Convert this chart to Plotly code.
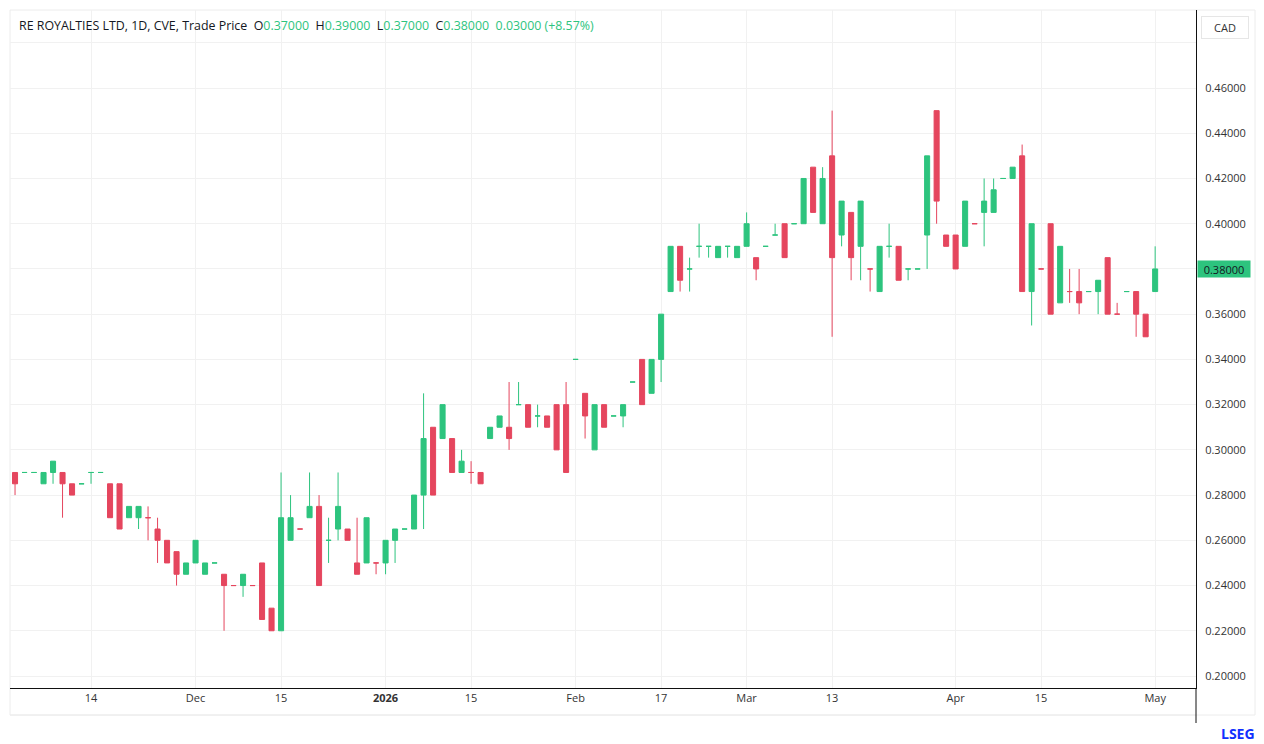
import plotly.graph_objects as go

# ---------------- data ----------------
dates = [
    "2025-11-04", "2025-11-05", "2025-11-06", "2025-11-07", "2025-11-10", "2025-11-11",
    "2025-11-12", "2025-11-13", "2025-11-14", "2025-11-17", "2025-11-18", "2025-11-19",
    "2025-11-20", "2025-11-21", "2025-11-24", "2025-11-25", "2025-11-26", "2025-11-27",
    "2025-11-28", "2025-12-01", "2025-12-02", "2025-12-03", "2025-12-04", "2025-12-08",
    "2025-12-09", "2025-12-10", "2025-12-11", "2025-12-12", "2025-12-15", "2025-12-16",
    "2025-12-17", "2025-12-18", "2025-12-19", "2025-12-22", "2025-12-23", "2025-12-24",
    "2025-12-29", "2025-12-30", "2025-12-31", "2026-01-02", "2026-01-05", "2026-01-06",
    "2026-01-07", "2026-01-08", "2026-01-09", "2026-01-12", "2026-01-13", "2026-01-14",
    "2026-01-15", "2026-01-16", "2026-01-19", "2026-01-20", "2026-01-21", "2026-01-22",
    "2026-01-26", "2026-01-27", "2026-01-28", "2026-01-29", "2026-01-30", "2026-02-02",
    "2026-02-03", "2026-02-04", "2026-02-05", "2026-02-06", "2026-02-10", "2026-02-11",
    "2026-02-12", "2026-02-13", "2026-02-17", "2026-02-18", "2026-02-19", "2026-02-20",
    "2026-02-23", "2026-02-24", "2026-02-25", "2026-02-26", "2026-02-27", "2026-03-02",
    "2026-03-03", "2026-03-04", "2026-03-05", "2026-03-06", "2026-03-09", "2026-03-10",
    "2026-03-11", "2026-03-12", "2026-03-13", "2026-03-16", "2026-03-17", "2026-03-18",
    "2026-03-19", "2026-03-20", "2026-03-23", "2026-03-24", "2026-03-25", "2026-03-26",
    "2026-03-27", "2026-03-30", "2026-03-31", "2026-04-01", "2026-04-02", "2026-04-06",
    "2026-04-07", "2026-04-08", "2026-04-09", "2026-04-10", "2026-04-13", "2026-04-14",
    "2026-04-15", "2026-04-16", "2026-04-17", "2026-04-20", "2026-04-21", "2026-04-22",
    "2026-04-23", "2026-04-24", "2026-04-27", "2026-04-28", "2026-04-29", "2026-04-30",
    "2026-05-01",
]

open_ = [
    0.29, 0.29, 0.29, 0.285, 0.29, 0.29, 0.285, 0.285, 0.29, 0.29,
    0.285, 0.285, 0.27, 0.27, 0.27, 0.265, 0.26, 0.255, 0.245, 0.25,
    0.245, 0.25, 0.245, 0.24, 0.24, 0.24, 0.25, 0.23, 0.22, 0.26,
    0.265, 0.27, 0.275, 0.26, 0.265, 0.265, 0.25, 0.25, 0.25, 0.25,
    0.26, 0.265, 0.265, 0.28, 0.31, 0.305, 0.305, 0.29, 0.29, 0.29,
    0.305, 0.31, 0.31, 0.32, 0.32, 0.315, 0.315, 0.32, 0.32, 0.34,
    0.325, 0.30, 0.32, 0.315, 0.315, 0.33, 0.34, 0.325, 0.34, 0.37,
    0.39, 0.38, 0.39, 0.39, 0.385, 0.39, 0.385, 0.39, 0.385, 0.39,
    0.395, 0.40, 0.40, 0.40, 0.425, 0.40, 0.43, 0.395, 0.405, 0.39,
    0.38, 0.37, 0.39, 0.39, 0.38, 0.38, 0.395, 0.45, 0.395, 0.395,
    0.39, 0.40, 0.405, 0.405, 0.42, 0.42, 0.43, 0.37, 0.38, 0.40,
    0.365, 0.37, 0.37, 0.37, 0.37, 0.385, 0.36, 0.37, 0.37, 0.36,
    0.37,
]
high = [
    0.29, 0.29, 0.29, 0.29, 0.295, 0.29, 0.285, 0.285, 0.29, 0.29,
    0.285, 0.285, 0.275, 0.275, 0.275, 0.27, 0.26, 0.255, 0.25, 0.26,
    0.25, 0.25, 0.245, 0.24, 0.245, 0.24, 0.25, 0.23, 0.29, 0.28,
    0.265, 0.29, 0.28, 0.27, 0.29, 0.265, 0.27, 0.27, 0.25, 0.26,
    0.265, 0.265, 0.28, 0.325, 0.31, 0.32, 0.305, 0.30, 0.295, 0.29,
    0.31, 0.315, 0.33, 0.33, 0.32, 0.32, 0.315, 0.32, 0.33, 0.34,
    0.325, 0.32, 0.32, 0.315, 0.32, 0.33, 0.34, 0.34, 0.36, 0.39,
    0.39, 0.385, 0.40, 0.39, 0.39, 0.39, 0.39, 0.405, 0.385, 0.39,
    0.40, 0.40, 0.40, 0.42, 0.425, 0.425, 0.45, 0.41, 0.405, 0.41,
    0.38, 0.39, 0.40, 0.39, 0.38, 0.38, 0.43, 0.45, 0.395, 0.395,
    0.41, 0.40, 0.42, 0.42, 0.42, 0.425, 0.435, 0.40, 0.38, 0.40,
    0.39, 0.38, 0.38, 0.37, 0.375, 0.385, 0.365, 0.37, 0.37, 0.36,
    0.39,
]
low = [
    0.28, 0.29, 0.29, 0.285, 0.285, 0.27, 0.28, 0.285, 0.285, 0.29,
    0.27, 0.265, 0.27, 0.265, 0.26, 0.25, 0.25, 0.24, 0.245, 0.25,
    0.245, 0.25, 0.22, 0.24, 0.235, 0.24, 0.225, 0.22, 0.22, 0.26,
    0.265, 0.27, 0.24, 0.25, 0.26, 0.26, 0.245, 0.25, 0.245, 0.245,
    0.25, 0.265, 0.265, 0.265, 0.28, 0.305, 0.29, 0.29, 0.285, 0.285,
    0.305, 0.31, 0.30, 0.32, 0.31, 0.31, 0.31, 0.30, 0.29, 0.34,
    0.305, 0.30, 0.31, 0.315, 0.31, 0.33, 0.32, 0.325, 0.33, 0.37,
    0.37, 0.37, 0.385, 0.385, 0.385, 0.385, 0.385, 0.39, 0.375, 0.39,
    0.395, 0.385, 0.40, 0.40, 0.405, 0.40, 0.35, 0.39, 0.375, 0.375,
    0.37, 0.37, 0.385, 0.375, 0.375, 0.38, 0.38, 0.40, 0.39, 0.38,
    0.39, 0.40, 0.39, 0.405, 0.42, 0.42, 0.37, 0.355, 0.38, 0.36,
    0.365, 0.365, 0.36, 0.37, 0.36, 0.36, 0.36, 0.37, 0.35, 0.35,
    0.37,
]
close = [
    0.285, 0.29, 0.29, 0.29, 0.295, 0.285, 0.28, 0.285, 0.29, 0.29,
    0.27, 0.265, 0.275, 0.275, 0.27, 0.26, 0.25, 0.245, 0.25, 0.26,
    0.25, 0.25, 0.24, 0.24, 0.245, 0.24, 0.225, 0.22, 0.27, 0.27,
    0.265, 0.275, 0.24, 0.26, 0.275, 0.26, 0.245, 0.27, 0.25, 0.26,
    0.265, 0.265, 0.28, 0.305, 0.28, 0.32, 0.29, 0.295, 0.29, 0.285,
    0.31, 0.315, 0.305, 0.32, 0.31, 0.315, 0.31, 0.30, 0.29, 0.34,
    0.315, 0.32, 0.31, 0.315, 0.32, 0.33, 0.32, 0.34, 0.36, 0.39,
    0.375, 0.38, 0.39, 0.39, 0.39, 0.39, 0.39, 0.40, 0.38, 0.39,
    0.395, 0.385, 0.40, 0.42, 0.405, 0.42, 0.385, 0.41, 0.385, 0.41,
    0.38, 0.39, 0.39, 0.375, 0.38, 0.38, 0.43, 0.41, 0.39, 0.38,
    0.41, 0.40, 0.41, 0.415, 0.42, 0.425, 0.37, 0.40, 0.38, 0.36,
    0.39, 0.37, 0.365, 0.37, 0.375, 0.36, 0.36, 0.37, 0.36, 0.35,
    0.38,
]

x_tick_dates = ["2025-11-14", "2025-12-01", "2025-12-15", "2026-01-02", "2026-01-15",
                "2026-02-02", "2026-02-17", "2026-03-02", "2026-03-13", "2026-04-01",
                "2026-04-15", "2026-05-01"]
x_tick_labels = ["14", "Dec", "15", "<b>2026</b>", "15", "Feb", "17", "Mar", "13",
                 "Apr", "15", "May"]
y_tick_values = [0.20, 0.22, 0.24, 0.26, 0.28, 0.30, 0.32, 0.34, 0.36, 0.38, 0.40,
                 0.42, 0.44, 0.46, 0.48]
y_tick_labels = [f"{v:.5f}" if v < 0.47 else "" for v in y_tick_values]

title_text = "RE ROYALTIES LTD, 1D, CVE, Trade Price"
currency = "CAD"

# ---------------- style ----------------
UP = "#2dc47e"
DOWN = "#e5465e"
FONT = "Open Sans"
TXT = "#131722"

fig = go.Figure(go.Candlestick(
    x=dates, open=open_, high=high, low=low, close=close,
    increasing=dict(line=dict(color=UP, width=1), fillcolor=UP),
    decreasing=dict(line=dict(color=DOWN, width=1), fillcolor=DOWN),
    whiskerwidth=0, hoverinfo="skip",
))

n = len(dates)
fig.update_layout(
    width=1264, height=744,
    margin=dict(l=10, r=68, t=10, b=56),
    paper_bgcolor="white", plot_bgcolor="white",
    showlegend=False, boxgap=0.24,
    font=dict(family=FONT, size=11, color="#333333"),
    xaxis=dict(
        type="category", range=[-0.53, n - 1 + 4.3],
        tickmode="array", tickvals=x_tick_dates, ticktext=x_tick_labels,
        showgrid=True, gridcolor="#f1f1f1", gridwidth=1,
        showline=True, linecolor="#111111", linewidth=1,
        ticks="", tickfont=dict(size=11, color="#333333", family=FONT),
        rangeslider=dict(visible=False), fixedrange=True,
    ),
    yaxis=dict(
        side="right", range=[0.1947, 0.4945],
        tickmode="array", tickvals=y_tick_values, ticktext=y_tick_labels,
        showgrid=True, gridcolor="#f1f1f1", gridwidth=1,
        showline=True, linecolor="#111111", linewidth=1,
        ticks="", ticklabelstandoff=6, zeroline=False,
        tickfont=dict(size=11, color="#333333", family=FONT),
    ),
)

# frame / panel borders (paper coordinates)
plot_h = 744 - 10 - 56
plot_w = 1264 - 10 - 68
y_band = -27 / plot_h
x_panel = (1255 - 10) / plot_w
fig.add_shape(type="rect", xref="paper", yref="paper", x0=0, x1=x_panel, y0=y_band, y1=1,
              line=dict(color="#ececec", width=1), layer="below")
fig.add_shape(type="line", xref="paper", yref="paper", x0=0, x1=1, y0=y_band, y1=y_band,
              line=dict(color="#ececec", width=1))
fig.add_shape(type="line", xref="paper", yref="paper", x0=1, x1=1, y0=y_band - 8 / plot_h, y1=0,
              line=dict(color="#111111", width=1))

# header line with OHLC of last bar
o, h, l, c = open_[-1], high[-1], low[-1], close[-1]
chg = c - close[-2]
pct = chg / close[-2] * 100
g = lambda s: f"<span style='color:{UP}'>{s}</span>"
sp = "&nbsp;&nbsp;"
header = (f"{title_text}{sp}O{g(f'{o:.5f}')}{sp}H{g(f'{h:.5f}')}"
          f"{sp}L{g(f'{l:.5f}')}{sp}C{g(f'{c:.5f}')}"
          f"{sp}{g(f'{chg:.5f} ({pct:+.2f}%)')}")
fig.add_annotation(xref="paper", yref="paper", x=0, y=1, xanchor="left", yanchor="middle",
                   xshift=7, yshift=-15, text=header, showarrow=False,
                   font=dict(family=FONT, size=12.4, color=TXT))

# currency box
fig.add_annotation(xref="paper", yref="paper", x=(1225 - 10) / plot_w, y=1, yshift=-17,
                   xanchor="center", yanchor="middle", text=currency, showarrow=False,
                   width=42, height=17, bordercolor="#e6e6e6", borderwidth=1, borderpad=2,
                   bgcolor="white", font=dict(family=FONT, size=11, color="#333333"))

# last price tag
fig.add_annotation(xref="paper", yref="y", x=1, y=c, xanchor="left", yanchor="middle",
                   xshift=1, text=f"{c:.5f}", showarrow=False, width=50, height=14,
                   bgcolor=UP, borderpad=1, align="center",
                   font=dict(family=FONT, size=11, color=TXT))

# LSEG mark
fig.add_annotation(xref="paper", yref="paper", x=(1257 - 10) / plot_w, y=-45 / plot_h,
                   xanchor="right", yanchor="middle", text="<b>LSEG</b>", showarrow=False,
                   font=dict(family=FONT, size=14, color="#1030ff"))

fig.write_html("out.html", config={"displayModeBar": False},
               post_script="document.body.style.margin='0';document.body.style.overflow='hidden';")
